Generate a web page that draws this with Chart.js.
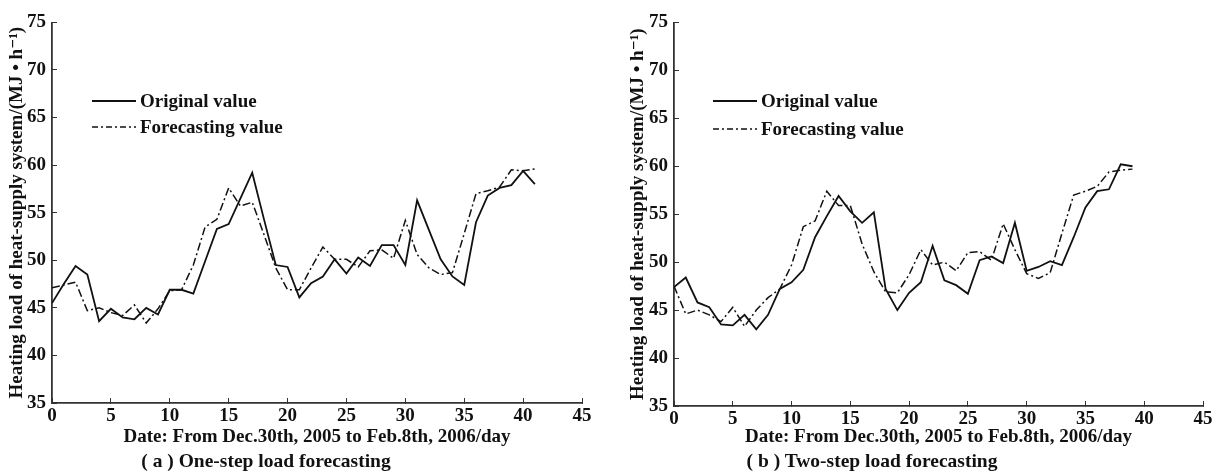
<!DOCTYPE html>
<html>
<head>
<meta charset="utf-8">
<script src="https://cdn.jsdelivr.net/npm/chart.js@4.4.1/dist/chart.umd.min.js"></script>
<style>
  body { margin: 0; background: #fff; width: 1226px; height: 475px; position: relative; overflow: hidden; }
  canvas { position: absolute; top: 0; }
  #chartA { left: 0; }
  #chartB { left: 620px; }
  .caption { position: absolute; top: 450px; font: bold 19.5px "Liberation Serif", serif; color: #111; white-space: nowrap; transform: translateX(-50%); line-height: 22px; }
</style>
</head>
<body>
<canvas id="chartA" width="613" height="475"></canvas>
<canvas id="chartB" width="606" height="475"></canvas>
<div class="caption" style="left:266px">( a ) One-step load forecasting</div>
<div class="caption" style="left:872px">( b ) Two-step load forecasting</div>
<script>
const daysA = [0,1,2,3,4,5,6,7,8,9,10,11,12,13,14,15,16,17,18,19,20,21,22,23,24,25,26,27,28,29,30,31,32,33,34,35,36,37,38,39,40,41]
const originalA = [45.5,47.5,49.4,48.5,43.6,44.9,44.0,43.8,45.0,44.3,46.9,46.9,46.5,49.9,53.3,53.8,56.5,59.2,54.3,49.5,49.3,46.1,47.6,48.3,50.1,48.6,50.3,49.4,51.6,51.6,49.5,56.3,53.2,50.1,48.3,47.4,54.0,56.8,57.6,57.9,59.4,58.0]
const forecastA = [47.1,47.4,47.7,44.7,45.0,44.5,44.2,45.3,43.4,44.9,46.8,46.9,49.5,53.5,54.3,57.6,55.7,56.1,52.7,49.2,46.9,46.9,49.2,51.4,50.1,50.1,49.3,51.0,51.1,50.2,54.2,50.6,49.2,48.5,48.7,52.8,57.0,57.3,57.7,59.5,59.4,59.6]

const daysB = [0,1,2,3,4,5,6,7,8,9,10,11,12,13,14,15,16,17,18,19,20,21,22,23,24,25,26,27,28,29,30,31,32,33,34,35,36,37,38,39]
const originalB = [47.4,48.4,45.8,45.3,43.5,43.4,44.5,43.0,44.5,47.2,47.9,49.2,52.6,54.8,56.9,55.3,54.1,55.2,47.2,45.0,46.8,47.9,51.7,48.1,47.6,46.7,50.2,50.6,49.9,54.1,49.1,49.5,50.1,49.7,52.6,55.7,57.4,57.6,60.2,60.0]
const forecastB = [47.5,44.6,45.0,44.5,43.8,45.3,43.3,45.0,46.3,47.2,49.7,53.7,54.3,57.4,55.9,55.9,51.9,49.0,46.9,46.8,48.7,51.3,49.7,50.0,49.1,51.0,51.1,50.2,54.0,51.3,48.8,48.3,48.9,53.0,57.0,57.4,57.9,59.4,59.6,59.7]

const seriesNames = ["Original value", "Forecasting value"]
const yTitle = "Heating load of heat-supply system/(MJ \u2022 h\u207B\u00B9)"
const xTitle = "Date: From Dec.30th, 2005 to Feb.8th, 2006/day"

const serif = "'Liberation Serif', 'DejaVu Serif', serif"
const ink = "#111"

// legend drawn inside the plot, like the original figure
const insideLegend = {
  id: "insideLegend",
  afterDatasetsDraw(chart, args, opts) {
    const ctx = chart.ctx
    ctx.save()
    chart.data.datasets.forEach((ds, i) => {
      const y = opts.y + i * opts.spacing
      ctx.beginPath()
      ctx.setLineDash(ds.borderDash ? [6, 3, 2, 3] : [])
      ctx.lineWidth = ds.borderWidth
      ctx.strokeStyle = ds.borderColor
      ctx.moveTo(opts.x, y)
      ctx.lineTo(opts.x + opts.sample, y)
      ctx.stroke()
      ctx.setLineDash([])
      ctx.fillStyle = ink
      ctx.font = opts.font
      ctx.textBaseline = "middle"
      ctx.fillText(ds.label, opts.x + opts.sample + 4, y + 1)
    })
    ctx.restore()
  }
}

function makeChart(id, days, original, forecast, area, legend) {
  const canvas = document.getElementById(id)
  return new Chart(canvas, {
    type: "line",
    data: {
      labels: days,
      datasets: [
        { label: seriesNames[0], data: original, borderColor: ink, borderWidth: 1.8, pointRadius: 0, tension: 0, fill: false },
        { label: seriesNames[1], data: forecast, borderColor: ink, borderWidth: 1.5, borderDash: [8, 3, 2, 3], pointRadius: 0, tension: 0, fill: false }
      ]
    },
    options: {
      animation: false,
      responsive: false,
      layout: { padding: { left: 0, right: canvas.width - area.right, top: area.top, bottom: 0 } },
      plugins: {
        legend: { display: false },
        tooltip: { enabled: false },
        insideLegend: legend
      },
      scales: {
        x: {
          type: "linear",
          min: 0,
          max: 45,
          ticks: { stepSize: 5, padding: 7, color: ink, font: { family: serif, size: 19, weight: "bold" } },
          grid: { drawOnChartArea: false, tickLength: -5, color: "#333" },
          border: { color: "#333", width: 1.8 },
          title: { display: true, text: xTitle, color: ink, font: { family: serif, size: 19, weight: "bold" }, padding: { top: 0, bottom: 26.5 } },
          afterFit: (s) => { s.height = canvas.height - area.bottom }
        },
        y: {
          min: 35,
          max: 75,
          ticks: { stepSize: 5, padding: 11, color: ink, font: { family: serif, size: 19, weight: "bold" } },
          grid: { drawOnChartArea: false, tickLength: -5, color: "#333" },
          border: { color: "#333", width: 1.8 },
          title: { display: true, text: yTitle, color: ink, font: { family: serif, size: 19, weight: "bold" }, padding: { top: area.titlePad, bottom: 0 } },
          afterFit: (s) => { s.width = area.left }
        }
      }
    },
    plugins: [insideLegend]
  })
}

makeChart("chartA", daysA, originalA, forecastA,
  { left: 52, right: 582, top: 15, bottom: 403, titlePad: 6 },
  { x: 92, y: 101, spacing: 26, sample: 44, font: "bold 19px " + serif })

makeChart("chartB", daysB, originalB, forecastB,
  { left: 54, right: 583, top: 14, bottom: 406, titlePad: 7 },
  { x: 93, y: 101, spacing: 28, sample: 44, font: "bold 19px " + serif })
</script>
</body>
</html>
